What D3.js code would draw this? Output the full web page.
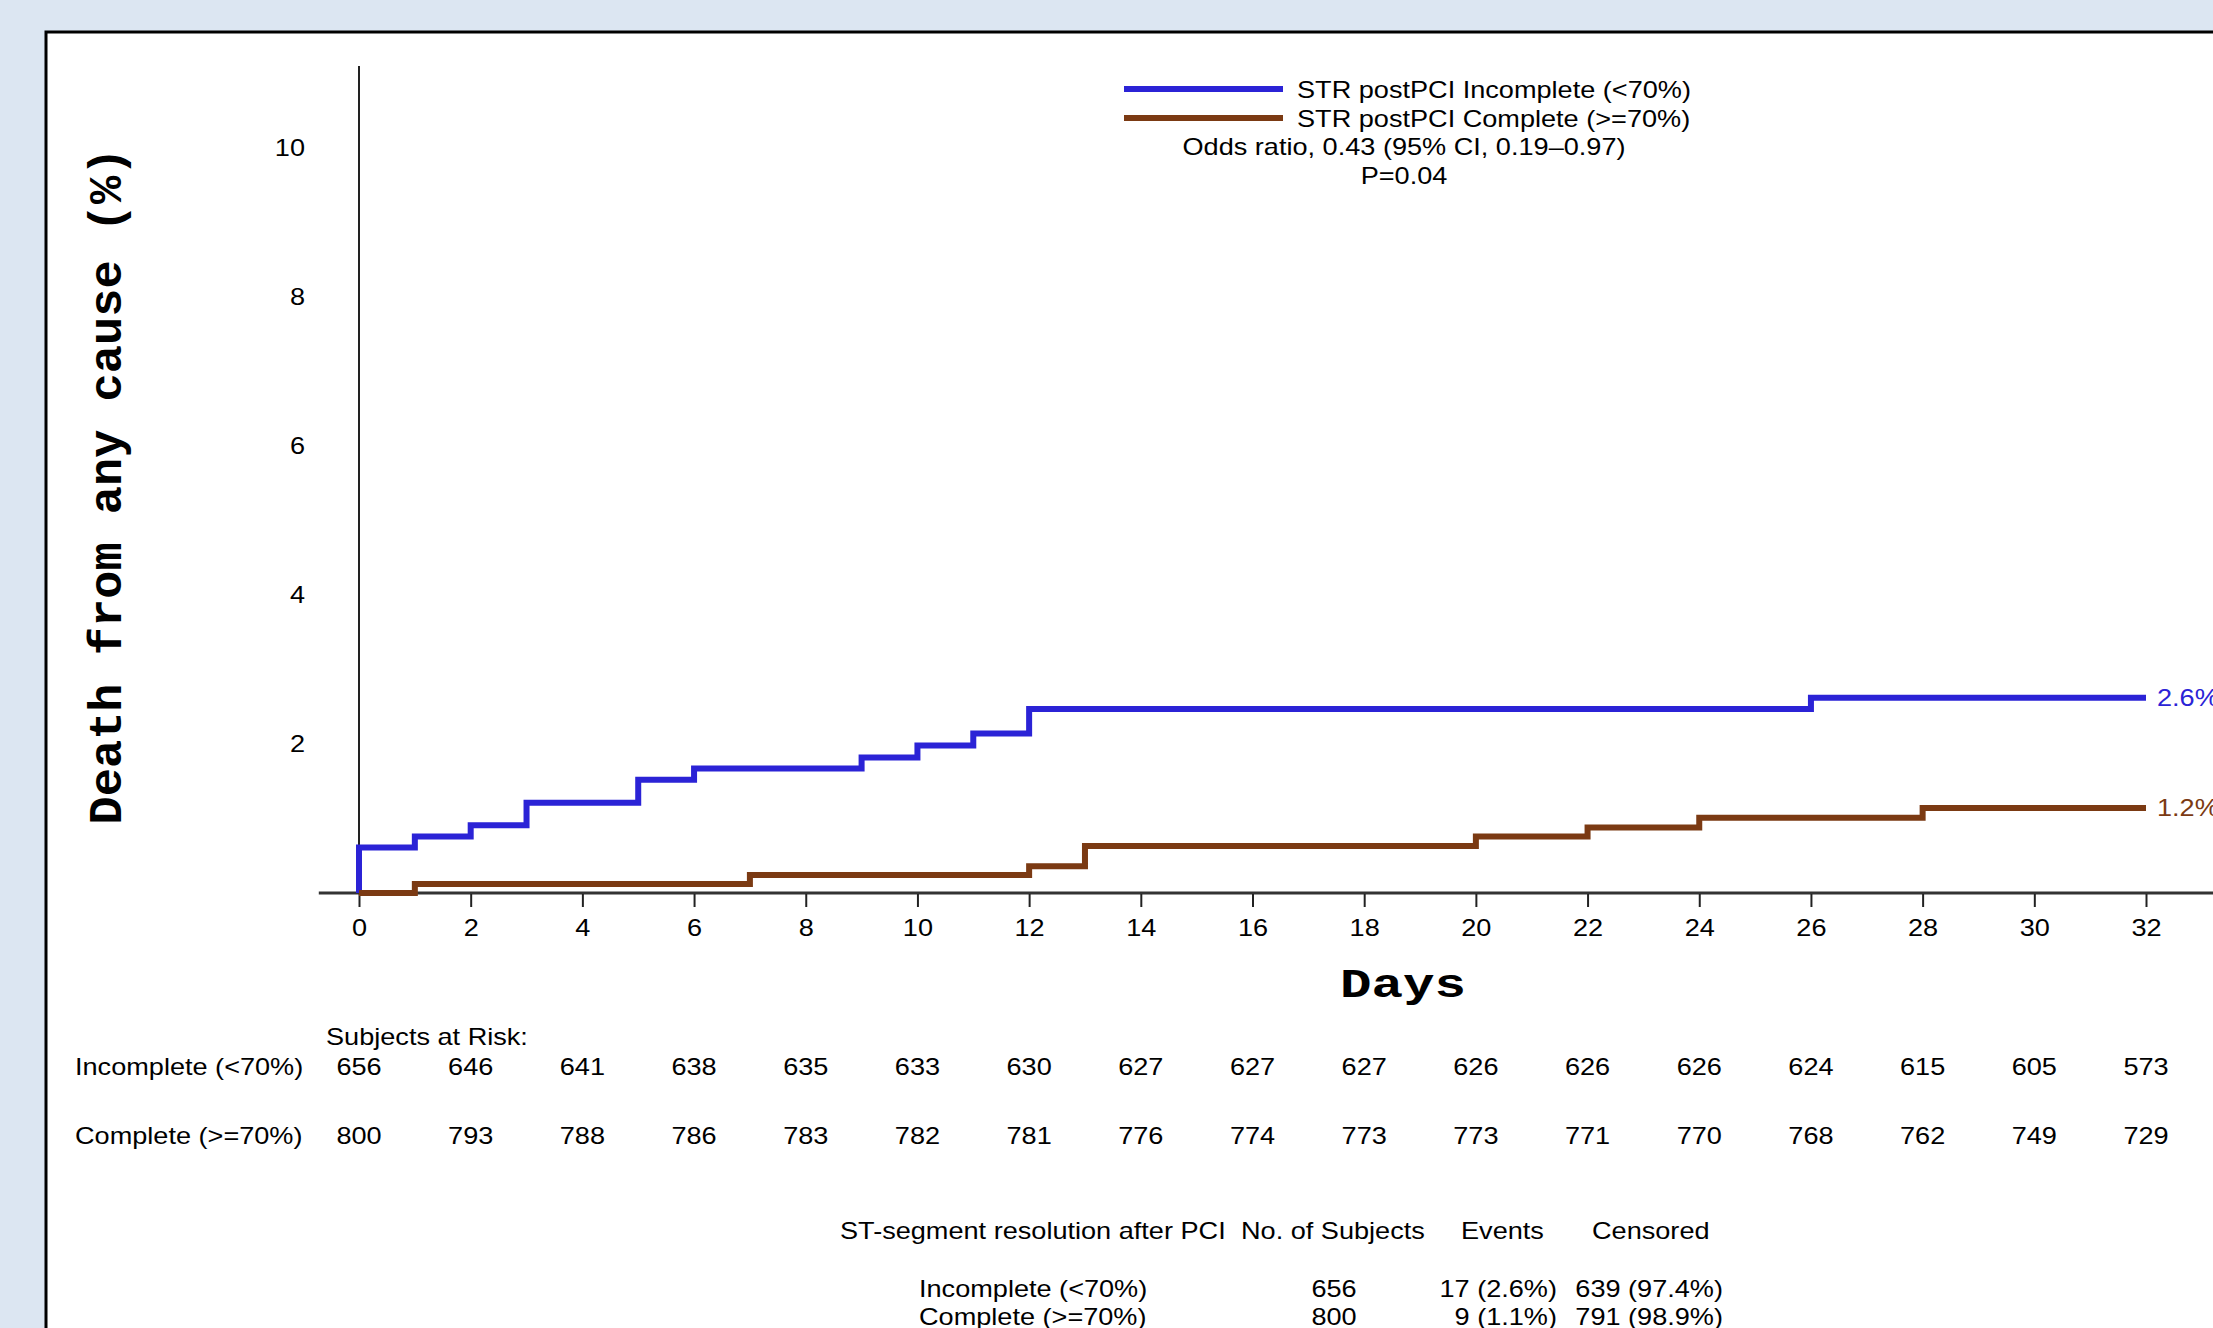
<!DOCTYPE html>
<html>
<head>
<meta charset="utf-8">
<script src="https://cdn.jsdelivr.net/npm/d3@7"></script>
<style>
  html, body { margin: 0; padding: 0; background: #dce6f2; }
  svg { display: block; }
</style>
</head>
<body>
<svg id="chart" width="2213" height="1328"></svg>
<script>
// ---------------- data ----------------
const dayTicks = [0, 2, 4, 6, 8, 10, 12, 14, 16, 18, 20, 22, 24, 26, 28, 30, 32];
const yTicks = [2, 4, 6, 8, 10];

const incompleteTimes  = [0, 1, 2, 3, 5, 6, 9, 10, 11, 12, 26, 32];
const incompleteValues = [0.61, 0.76, 0.91, 1.21, 1.52, 1.67, 1.82, 1.98, 2.14, 2.47, 2.62, 2.62];

const completeTimes  = [0, 1, 7, 12, 13, 20, 22, 24, 28, 32];
const completeValues = [0, 0.12, 0.24, 0.36, 0.63, 0.76, 0.88, 1.01, 1.14, 1.14];

const atRiskIncomplete = [656, 646, 641, 638, 635, 633, 630, 627, 627, 627, 626, 626, 626, 624, 615, 605, 573];
const atRiskComplete   = [800, 793, 788, 786, 783, 782, 781, 776, 774, 773, 773, 771, 770, 768, 762, 749, 729];

const seriesNames = ["STR postPCI Incomplete (<70%)", "STR postPCI Complete (>=70%)"];
const endLabels = ["2.6%", "1.2%"];
const riskRowLabels = ["Incomplete (<70%)", "Complete (>=70%)"];

const tableHeader = ["ST-segment resolution after PCI", "No. of Subjects", "Events", "Censored"];
const tableGroups = ["Incomplete (<70%)", "Complete (>=70%)"];
const tableSubjects = ["656", "800"];
const tableEvents = ["17 (2.6%)", "9 (1.1%)"];
const tableCensored = ["639 (97.4%)", "791 (98.9%)"];

const statLines = ["Odds ratio, 0.43 (95% CI, 0.19\u20130.97)", "P=0.04"];

// ---------------- style ----------------
const BLUE = "#2b23d6";
const BROWN = "#7b3a13";
const SANS = "'Liberation Sans', Arial, sans-serif";
const MONO = "'Liberation Mono', 'Courier New', monospace";
const FS = 24;
const SX = 1.13;

const svg = d3.select("#chart");

// panel
svg.append("rect").attr("x", 0).attr("y", 0).attr("width", 2213).attr("height", 1328).attr("fill", "#dce6f2");
svg.append("rect").attr("x", 46).attr("y", 32).attr("width", 2200).attr("height", 1320)
  .attr("fill", "#ffffff").attr("stroke", "#000").attr("stroke-width", 3);

// scales
const x = d3.scaleLinear().domain([0, 32]).range([359, 2146]);
const y = d3.scaleLinear().domain([0, 10]).range([893, 148]);

function text(g, px, py, s, opts = {}) {
  return g.append("text")
    .attr("transform", `translate(${px},${py}) scale(${SX},1)`)
    .attr("dy", "0.35em")
    .attr("text-anchor", opts.anchor || "start")
    .attr("font-family", SANS)
    .attr("font-size", opts.size || FS)
    .attr("fill", opts.fill || "#000")
    .text(s);
}

// y axis line
svg.append("line")
  .attr("x1", x(0)).attr("x2", x(0))
  .attr("y1", y(0)).attr("y2", y(11.1))
  .attr("stroke", "#222").attr("stroke-width", 2);

// y tick labels
const yAxis = d3.axisLeft(y).tickValues(yTicks).tickSize(0).tickFormat(d3.format("d"));
const gy = svg.append("g").attr("transform", `translate(${x(0)},0)`).call(yAxis);
gy.select(".domain").remove();
gy.selectAll("text")
  .attr("x", 0)
  .attr("transform", `translate(-54,0) scale(${SX},1)`)
  .attr("font-family", SANS).attr("font-size", FS).attr("fill", "#000");

// x axis
svg.append("line")
  .attr("x1", x(-0.72)).attr("x2", 2213)
  .attr("y1", y(0)).attr("y2", y(0))
  .attr("stroke", "#333").attr("stroke-width", 3);
const xAxis = d3.axisBottom(x).tickValues(dayTicks).tickSize(13).tickPadding(12).tickFormat(d3.format("d"));
const gx = svg.append("g").attr("transform", `translate(0,${y(0) + 1})`).call(xAxis);
gx.select(".domain").remove();
gx.selectAll(".tick line").attr("stroke", "#222").attr("stroke-width", 2);
gx.selectAll("text")
  .attr("transform", `scale(${SX},1)`)
  .attr("font-family", SANS).attr("font-size", FS).attr("fill", "#000");

// axis titles
svg.append("text")
  .attr("transform", `translate(121,486) rotate(-90)`)
  .attr("text-anchor", "middle")
  .attr("font-family", MONO).attr("font-weight", "bold").attr("font-size", 47)
  .attr("fill", "#000")
  .text("Death from any cause (%)");

svg.append("text")
  .attr("x", 1403).attr("y", 997)
  .attr("text-anchor", "middle")
  .attr("font-family", MONO).attr("font-weight", "bold").attr("font-size", 40)
  .attr("textLength", 126).attr("lengthAdjust", "spacingAndGlyphs")
  .attr("fill", "#000")
  .text("Days");

// curves
const line = d3.line().x(d => x(d[0])).y(d => y(d[1])).curve(d3.curveStepAfter);
function steps(times, values) {
  const pts = [[0, 0]];
  times.forEach((t, i) => pts.push([t, values[i]]));
  return pts;
}
const curves = [
  { pts: steps(incompleteTimes, incompleteValues), color: BLUE, label: endLabels[0] },
  { pts: steps(completeTimes, completeValues), color: BROWN, label: endLabels[1] }
];
curves.forEach(c => {
  svg.append("path").attr("d", line(c.pts))
    .attr("fill", "none").attr("stroke", c.color).attr("stroke-width", 6)
    .attr("stroke-linejoin", "miter").attr("stroke-linecap", "butt");
  const last = c.pts[c.pts.length - 1];
  text(svg, x(last[0]) + 11, y(last[1]), c.label, { fill: c.color });
});

// legend
const legendColors = [BLUE, BROWN];
seriesNames.forEach((name, i) => {
  const ly = 89 + i * 29;
  svg.append("line").attr("x1", 1124).attr("x2", 1283).attr("y1", ly).attr("y2", ly)
    .attr("stroke", legendColors[i]).attr("stroke-width", 6);
  text(svg, 1297, ly + 1, name);
});
statLines.forEach((s, i) => text(svg, 1404, 147 + i * 29, s, { anchor: "middle" }));

// subjects at risk
text(svg, 326, 1037, "Subjects at Risk:");
[atRiskIncomplete, atRiskComplete].forEach((row, r) => {
  const ry = r === 0 ? 1067 : 1136;
  text(svg, 75, ry, riskRowLabels[r]);
  row.forEach((v, i) => text(svg, x(dayTicks[i]), ry, String(v), { anchor: "middle" }));
});

// summary table
const headerX = [840, 1241, 1461, 1592];
tableHeader.forEach((h, i) => text(svg, headerX[i], 1231, h));
tableGroups.forEach((g, r) => {
  const ry = 1289 + r * 28;
  text(svg, 919, ry, g);
  text(svg, 1334, ry, tableSubjects[r], { anchor: "middle" });
  text(svg, 1557, ry, tableEvents[r], { anchor: "end" });
  text(svg, 1723, ry, tableCensored[r], { anchor: "end" });
});
</script>
</body>
</html>
